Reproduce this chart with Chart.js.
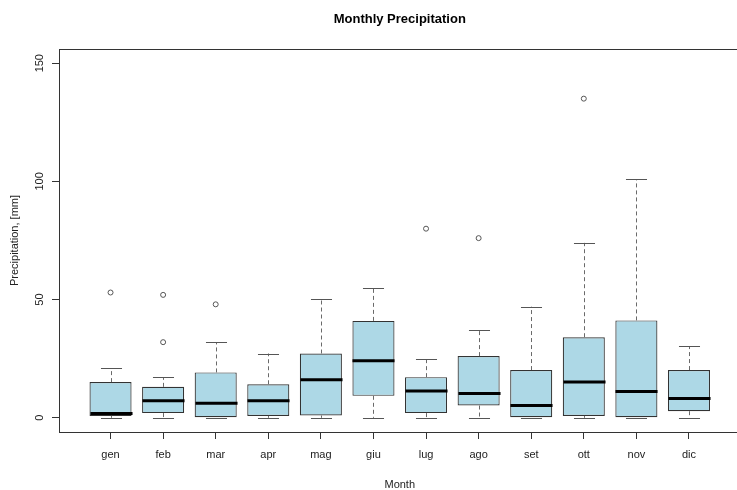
<!DOCTYPE html>
<html>
<head>
<meta charset="utf-8">
<script src="https://cdn.jsdelivr.net/npm/chart.js@4/dist/chart.umd.min.js"></script>
<style>
  html, body { margin: 0; padding: 0; background: #fff; overflow: hidden; }
  #wrap { width: 744px; height: 490px; }
</style>
</head>
<body>
<div id="wrap"><canvas id="chart" width="744" height="490"></canvas></div>
<script>
// box plot stats per month
const months = ['gen', 'feb', 'mar', 'apr', 'mag', 'giu', 'lug', 'ago', 'set', 'ott', 'nov', 'dic'];
const whiskerLow = [0, 0, 0, 0, 0, 0, 0, 0, 0, 0, 0, 0];
const q1 = [0.8, 2, 0, 0.8, 1, 9.3, 2, 5.2, 0, 0.8, 0, 2.8];
const median = [1.8, 7.2, 6.2, 7.2, 16.1, 24.1, 11.3, 10.3, 5.2, 15.2, 11.1, 8.2];
const q3 = [15.1, 13.1, 19.2, 14.2, 27.2, 41, 17.2, 26.1, 20.2, 34.1, 41.2, 20.2];
const whiskerHigh = [21, 17.2, 32, 27.2, 50.2, 55, 25, 37, 47, 74, 101, 30.2];

// outliers: month position (1 = gen) and value
const outlierMonth = [1, 2, 2, 3, 7, 8, 10];
const outlierValue = [53, 52, 32, 48, 80, 76, 135];

const yTicks = [0, 50, 100, 150];

const FONT = '"Liberation Sans", Arial, sans-serif';
const AXIS_COL = '#333';

const boxPlugin = {
    id: 'boxExtras',
    afterDatasetsDraw(chart) {
        const ctx = chart.ctx;
        const xs = chart.scales.x;
        const ys = chart.scales.y;
        const bars = chart.getDatasetMeta(0).data;

        ctx.save();
        months.forEach((m, i) => {
            const x = Math.round(xs.getPixelForValue(i + 1)) + 0.5;
            const w = bars[i].width;
            const cap = w / 4;

            // whiskers
            ctx.strokeStyle = '#6a6a6a';
            ctx.lineWidth = 1;
            ctx.setLineDash([4, 3]);
            ctx.beginPath();
            ctx.moveTo(x, ys.getPixelForValue(q3[i]));
            ctx.lineTo(x, ys.getPixelForValue(whiskerHigh[i]));
            ctx.moveTo(x, ys.getPixelForValue(q1[i]));
            ctx.lineTo(x, ys.getPixelForValue(whiskerLow[i]));
            ctx.stroke();

            // staples
            ctx.setLineDash([]);
            ctx.strokeStyle = '#555';
            ctx.beginPath();
            let yh = Math.round(ys.getPixelForValue(whiskerHigh[i])) + 0.5;
            let yl = Math.round(ys.getPixelForValue(whiskerLow[i])) + 0.5;
            ctx.moveTo(x - cap, yh); ctx.lineTo(x + cap, yh);
            ctx.moveTo(x - cap, yl); ctx.lineTo(x + cap, yl);
            ctx.stroke();

            // median
            ctx.strokeStyle = '#000';
            ctx.lineWidth = 3;
            ctx.beginPath();
            const ym = ys.getPixelForValue(median[i]);
            ctx.moveTo(x - w / 2, ym); ctx.lineTo(x + w / 2, ym);
            ctx.stroke();
        });
        ctx.restore();
    },
    afterDraw(chart) {
        const ctx = chart.ctx;
        const a = chart.chartArea;
        const xs = chart.scales.x;
        const ys = chart.scales.y;

        ctx.save();
        // frame
        ctx.strokeStyle = AXIS_COL;
        ctx.lineWidth = 1;
        ctx.strokeRect(Math.round(a.left) + 0.5, Math.round(a.top) + 0.5, a.right - a.left, a.bottom - a.top);

        ctx.fillStyle = '#222';
        ctx.font = '11px ' + FONT;
        ctx.textAlign = 'center';
        ctx.textBaseline = 'middle';

        // month labels
        months.forEach((m, i) => {
            ctx.fillText(m, xs.getPixelForValue(i + 1), 455);
        });

        // y tick labels, rotated like base R
        yTicks.forEach(v => {
            ctx.save();
            ctx.translate(40, ys.getPixelForValue(v));
            ctx.rotate(-Math.PI / 2);
            ctx.fillText(String(v), 0, 0);
            ctx.restore();
        });

        // axis titles
        const cx = (a.left + a.right) / 2;
        ctx.fillText('Month', cx, 485);
        ctx.save();
        ctx.translate(15, (a.top + a.bottom) / 2);
        ctx.rotate(-Math.PI / 2);
        ctx.fillText('Precipitation, [mm]', 0, 0);
        ctx.restore();

        // main title
        ctx.fillStyle = '#000';
        ctx.font = 'bold 13px ' + FONT;
        ctx.fillText('Monthly Precipitation', cx, 19);
        ctx.restore();
    }
};

new Chart(document.getElementById('chart'), {
    type: 'bar',
    data: {
        datasets: [
            {
                type: 'bar',
                data: months.map((m, i) => ({ x: i + 1, y: [q1[i], q3[i]] })),
                backgroundColor: '#ADD8E6',
                borderColor: '#333',
                borderWidth: 1.2,
                borderSkipped: false,
                barPercentage: 0.8,
                categoryPercentage: 1.0
            },
            {
                type: 'scatter',
                data: outlierMonth.map((m, i) => ({ x: m, y: outlierValue[i] })),
                pointRadius: 2.5,
                pointBorderWidth: 1,
                borderColor: '#555',
                backgroundColor: 'rgba(0,0,0,0)',
                pointHoverRadius: 2.5
            }
        ]
    },
    options: {
        responsive: false,
        animation: false,
        devicePixelRatio: 1,
        layout: { padding: { top: 49, left: 0, right: 0, bottom: 0 } },
        plugins: { legend: { display: false }, tooltip: { enabled: false }, title: { display: false } },
        scales: {
            x: {
                type: 'linear',
                min: 0.02,
                max: 12.98,
                offset: false,
                afterBuildTicks: s => { s.ticks = months.map((m, i) => ({ value: i + 1 })); },
                afterFit: s => { s.height = 58; },
                ticks: { display: false },
                grid: { offset: false, drawOnChartArea: false, drawTicks: true, tickLength: 7, color: AXIS_COL },
                border: { display: true, color: AXIS_COL, width: 1 }
            },
            y: {
                type: 'linear',
                min: -6,
                max: 156,
                afterBuildTicks: s => { s.ticks = yTicks.map(v => ({ value: v })); },
                afterFit: s => { s.width = 59; },
                ticks: { display: false },
                grid: { drawOnChartArea: false, drawTicks: true, tickLength: 7, color: AXIS_COL },
                border: { display: true, color: AXIS_COL, width: 1 }
            }
        }
    },
    plugins: [boxPlugin]
});
</script>
</body>
</html>
